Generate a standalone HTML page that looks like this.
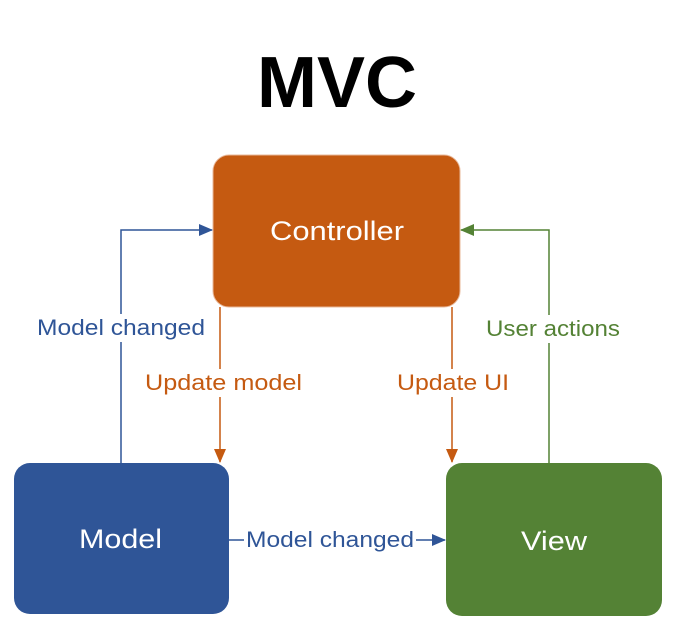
<!DOCTYPE html>
<html><head><meta charset="utf-8"><style>
html,body{margin:0;padding:0;background:#fff;}
body{width:688px;height:636px;position:relative;overflow:hidden;font-family:"Liberation Sans",sans-serif;}
</style></head><body>
<svg width="688" height="636" viewBox="0 0 688 636" xmlns="http://www.w3.org/2000/svg" style="position:absolute;left:0;top:0">
<defs>
<marker id="ab" markerWidth="14" markerHeight="12" refX="13" refY="6" orient="auto" markerUnits="userSpaceOnUse"><path d="M0,0 L14,6 L0,12 z" fill="#2F5597"/></marker>
<marker id="ao" markerWidth="14" markerHeight="12" refX="13" refY="6" orient="auto" markerUnits="userSpaceOnUse"><path d="M0,0 L14,6 L0,12 z" fill="#C55A11"/></marker>
<marker id="ag" markerWidth="14" markerHeight="12" refX="13" refY="6" orient="auto" markerUnits="userSpaceOnUse"><path d="M0,0 L14,6 L0,12 z" fill="#548235"/></marker>
</defs>
<text x="337" y="107" text-anchor="middle" font-size="72" font-weight="bold" fill="#000">MVC</text>
<rect x="213" y="155" width="247" height="152" rx="16" fill="#C55A11" stroke="#E8B89A" stroke-width="1"/>
<rect x="14" y="463" width="215" height="151" rx="16" fill="#2F5597"/>
<rect x="446" y="463" width="216" height="153" rx="16" fill="#548235"/>
<text x="270" y="240" font-size="27" fill="#fff" textLength="134" lengthAdjust="spacingAndGlyphs">Controller</text>
<text x="79" y="548" font-size="27" fill="#fff" textLength="83" lengthAdjust="spacingAndGlyphs">Model</text>
<text x="521" y="550" font-size="27" fill="#fff" textLength="66" lengthAdjust="spacingAndGlyphs">View</text>
<path d="M121,463 V230 H212" fill="none" stroke="#2F5597" stroke-width="1.5" marker-end="url(#ab)"/>
<path d="M549,463 V230 H461" fill="none" stroke="#548235" stroke-width="1.5" marker-end="url(#ag)"/>
<path d="M220,307 V462" fill="none" stroke="#C55A11" stroke-width="1.5" marker-end="url(#ao)"/>
<path d="M452,307 V462" fill="none" stroke="#C55A11" stroke-width="1.5" marker-end="url(#ao)"/>
<path d="M229,540 H445" fill="none" stroke="#2F5597" stroke-width="1.5" marker-end="url(#ab)"/>
<rect x="34" y="314" width="175" height="28" fill="#fff"/>
<text x="37" y="335" font-size="22" fill="#2F5597" textLength="168" lengthAdjust="spacingAndGlyphs">Model changed</text>
<rect x="142" y="369" width="163" height="28" fill="#fff"/>
<text x="145" y="390" font-size="22" fill="#C55A11" textLength="157" lengthAdjust="spacingAndGlyphs">Update model</text>
<rect x="394" y="369" width="118" height="28" fill="#fff"/>
<text x="397" y="390" font-size="22" fill="#C55A11" textLength="112" lengthAdjust="spacingAndGlyphs">Update UI</text>
<rect x="483" y="315" width="140" height="28" fill="#fff"/>
<text x="486" y="336" font-size="22" fill="#548235" textLength="134" lengthAdjust="spacingAndGlyphs">User actions</text>
<rect x="244" y="526" width="172" height="28" fill="#fff"/>
<text x="246" y="547" font-size="22" fill="#2F5597" textLength="168" lengthAdjust="spacingAndGlyphs">Model changed</text>
</svg>
</body></html>
